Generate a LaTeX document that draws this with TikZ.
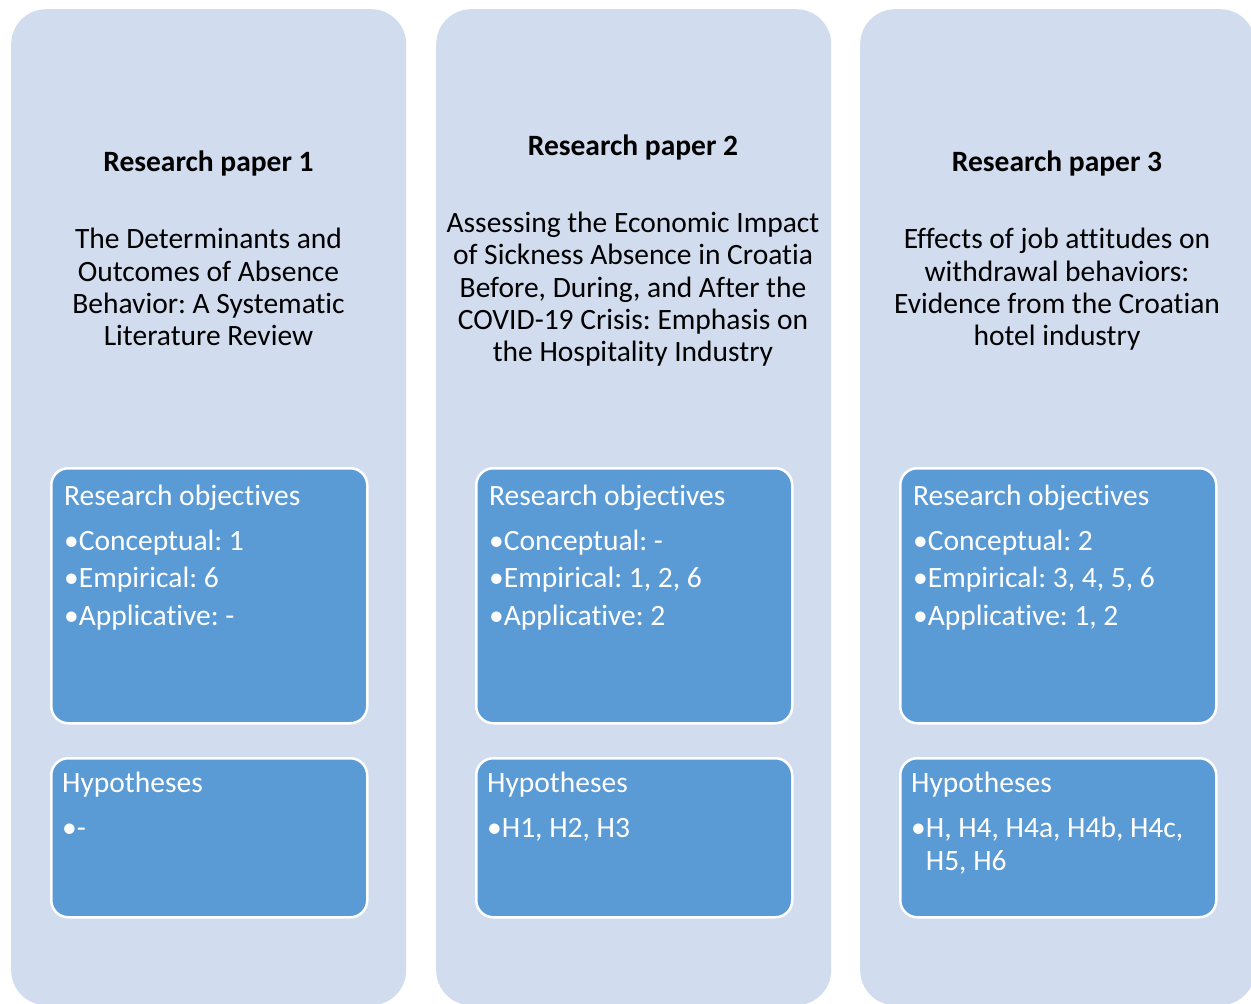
\documentclass[tikz,border=0pt]{standalone}
\usepackage{fontspec}
\setmainfont[Ligatures={NoCommon}]{Carlito}
\definecolor{colbg}{HTML}{D1DCEE}
\definecolor{boxbg}{HTML}{5B9BD5}
\frenchspacing
\begin{document}
\begin{tikzpicture}[x=1pt,y=-1pt,
  col/.style={fill=colbg, draw=none, rounded corners=35pt, minimum width=395pt, minimum height=996pt, inner sep=0pt, anchor=north west},
  inbox/.style={fill=boxbg, draw=white, line width=2.5pt, rounded corners=17pt, minimum width=316pt, inner sep=0pt, anchor=north west},
  ttl/.style={font=\frenchspacing\bfseries\fontsize{29.5}{33}\selectfont, anchor=base, inner sep=0pt},
  sub/.style={font=\frenchspacing\fontsize{29.5}{33}\selectfont, anchor=base, inner sep=0pt},
  itxt/.style={font=\frenchspacing\fontsize{29.5}{33}\selectfont, text=white, anchor=base west, inner sep=0pt},
]
\useasboundingbox (0,0) rectangle (1251,1004);
\clip (0,0) rectangle (1251,1004);
\fill[white] (0,0) rectangle (1251,1004);

% columns
\node[col] (c1) at (11,9) {};
\node[col] (c2) at (436,9) {};
\node[col] (c3) at (860,9) {};

% column 1
\node[ttl] (t1) at (208.5,171) {Research paper 1};
\node[sub] (s1a) at (208.5,248) {The Determinants and};
\node[sub] (s1b) at (208.5,281) {Outcomes of Absence};
\node[sub] (s1c) at (208.5,313) {Behavior: A Systematic};
\node[sub] (s1d) at (208.5,345) {Literature Review};
\node[inbox, minimum height=255pt] (o1) at (50,467) {};
\node[inbox, minimum height=159pt] (h1) at (50,757) {};
\node[itxt] (o1h) at (64,505) {Research objectives};
\node[itxt] (o1a) at (64,550) {•Conceptual: 1};
\node[itxt] (o1b) at (64,587) {•Empirical: 6};
\node[itxt] (o1c) at (64,625) {•Applicative: -};
\node[itxt] (h1h) at (62,792) {Hypotheses};
\node[itxt] (h1a) at (62,837) {•-};

% column 2
\node[ttl] (t2) at (633,155) {Research paper 2};
\node[sub] (s2a) at (633,232) {Assessing the Economic Impact};
\node[sub] (s2b) at (633,264) {of Sickness Absence in Croatia};
\node[sub] (s2c) at (633,297) {Before, During, and After the};
\node[sub] (s2d) at (633,329) {COVID-19 Crisis: Emphasis on};
\node[sub] (s2e) at (633,361) {the Hospitality Industry};
\node[inbox, minimum height=255pt] (o2) at (475,467) {};
\node[inbox, minimum height=159pt] (h2) at (475,757) {};
\node[itxt] (o2h) at (489,505) {Research objectives};
\node[itxt] (o2a) at (489,550) {•Conceptual: -};
\node[itxt] (o2b) at (489,587) {•Empirical: 1, 2, 6};
\node[itxt] (o2c) at (489,625) {•Applicative: 2};
\node[itxt] (h2h) at (487,792) {Hypotheses};
\node[itxt] (h2a) at (487,837) {•H1, H2, H3};

% column 3
\node[ttl] (t3) at (1057,171) {Research paper 3};
\node[sub] (s3a) at (1057,248) {Effects of job attitudes on};
\node[sub] (s3b) at (1057,281) {withdrawal behaviors:};
\node[sub] (s3c) at (1057,313) {Evidence from the Croatian};
\node[sub] (s3d) at (1057,345) {hotel industry};
\node[inbox, minimum height=255pt] (o3) at (899,467) {};
\node[inbox, minimum height=159pt] (h3) at (899,757) {};
\node[itxt] (o3h) at (913,505) {Research objectives};
\node[itxt] (o3a) at (913,550) {•Conceptual: 2};
\node[itxt] (o3b) at (913,587) {•Empirical: 3, 4, 5, 6};
\node[itxt] (o3c) at (913,625) {•Applicative: 1, 2};
\node[itxt] (h3h) at (911,792) {Hypotheses};
\node[itxt] (h3a) at (911,837) {•H, H4, H4a, H4b, H4c,};
\node[itxt] (h3b) at (911,870) {\phantom{•}H5, H6};
\end{tikzpicture}
\end{document}
